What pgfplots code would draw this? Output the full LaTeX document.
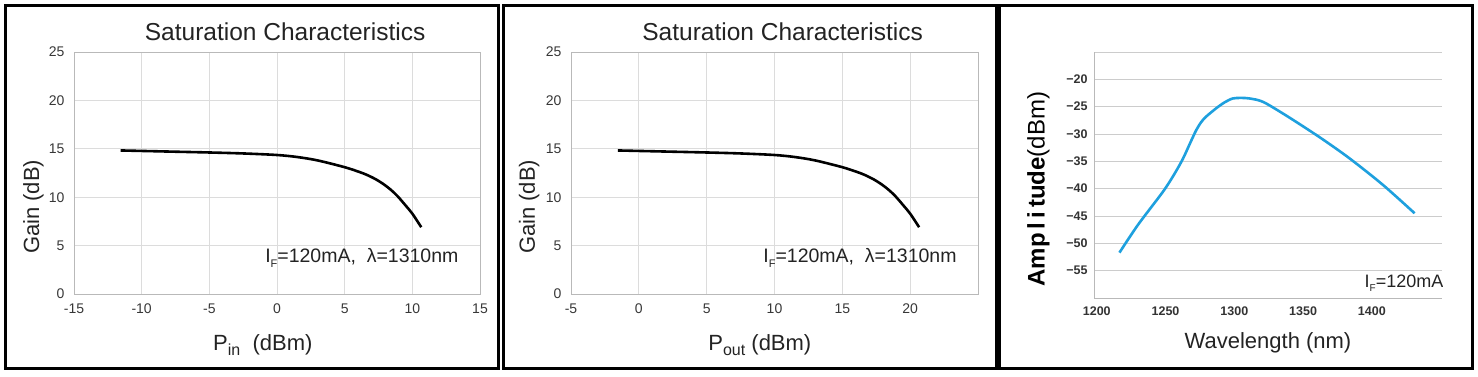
\documentclass[border=0pt]{standalone}
\usepackage{pgfplots}
\pgfplotsset{compat=1.18}
\usepackage{fontspec}
\setmainfont{Liberation Sans}
\definecolor{gridc}{RGB}{220,220,220}
\definecolor{boxc}{RGB}{185,185,185}
\definecolor{ampblue}{RGB}{30,160,222}
\definecolor{tickc}{RGB}{55,55,55}
\definecolor{txtc}{RGB}{35,35,35}
\newcommand{\fs}[1]{\fontsize{#1}{#1}\selectfont}

\pgfplotstableread{
x y
-11.55 14.83
-10 14.78
-7.5 14.70
-5 14.62
-2.5 14.52
0 14.36
1.5 14.15
3 13.8
5 13.1
6.1 12.6
6.65 12.3
7.3 11.85
7.9 11.32
8.4 10.78
8.9 10.12
9.5 9.15
10 8.3
10.66 6.9
}\pin

\pgfplotstableread{
x y
-1.55 14.83
0 14.78
2.5 14.70
5 14.62
7.5 14.52
10 14.36
11.5 14.15
13 13.8
15 13.1
16.1 12.6
16.65 12.3
17.3 11.85
17.9 11.32
18.4 10.78
18.9 10.12
19.5 9.15
20 8.3
20.66 6.9
}\pout

\pgfplotstableread{
x y
1216.5 -51.7
1230 -46.6
1248 -40.6
1256 -37.5
1262.5 -34.6
1268 -31.6
1272.3 -29.3
1276 -27.8
1279.6 -26.8
1286.8 -25.3
1293 -24.2
1298.9 -23.5
1305 -23.4
1311.1 -23.5
1320.7 -24.1
1335 -26.2
1350 -28.6
1365 -31.1
1384 -34.5
1408 -39.3
1431.1 -44.5
}\amp

\pgfplotsset{
  satstyle/.style={
    scale only axis, width=406pt, height=242pt,
    ymin=0, ymax=25, ytick={0,5,...,25},
    grid=major, grid style={gridc, line width=0.8pt},
    axis line style={boxc, line width=1pt},
    major tick length=0pt,
    tick label style={font=\fs{14}, text=tickc},
    xticklabel style={yshift=-6pt},
    yticklabel style={xshift=-6pt},
    /pgf/number format/assume math mode=true,
    title style={font=\fs{24.5}, text=txtc, anchor=center},
    ylabel style={font=\fs{22}, text=txtc, anchor=center},
    xlabel style={font=\fs{22}, text=txtc, anchor=center},
  }
}

\begin{document}
\begin{tikzpicture}[x=1pt,y=1pt]
\useasboundingbox (0,0) rectangle (1478,376);
\draw[line width=3pt] (5,8) rectangle (498,370);
\draw[line width=3pt] (503,8) rectangle (996,370);
\draw[line width=3pt] (999,8) rectangle (1472,370);

% Panel 1
\begin{axis}[satstyle, at={(74pt,82pt)}, anchor=south west,
  xmin=-15, xmax=15, xtick={-15,-10,...,15},
  title={Saturation Characteristics},
  title style={at={(axis description cs:0.52,1.058)}},
  ylabel={Gain (dB)},
  ylabel style={at={(axis description cs:-0.10,0.36)}},
  xlabel={P\raisebox{-0.45ex}{\fs{16}in}\ \ (dBm)},
  xlabel style={at={(axis description cs:0.465,-0.21)}},
]
\addplot[black, line width=2.6pt, smooth] table[x=x,y=y] {\pin};
\node[font=\fs{19.5}, text=txtc] at (axis description cs:0.709,0.149) {I\raisebox{-0.4ex}{\fs{11}F}=120mA,\ \ λ=1310nm};
\end{axis}

% Panel 2
\begin{axis}[satstyle, at={(571pt,82pt)}, anchor=south west, width=407pt,
  xmin=-5, xmax=25, xtick={-5,0,...,20},
  title={Saturation Characteristics},
  title style={at={(axis description cs:0.52,1.058)}},
  ylabel={Gain (dB)},
  ylabel style={at={(axis description cs:-0.103,0.36)}},
  xlabel={P\raisebox{-0.45ex}{\fs{16}out}\ (dBm)},
  xlabel style={at={(axis description cs:0.464,-0.21)}},
]
\addplot[black, line width=2.6pt, smooth] table[x=x,y=y] {\pout};
\node[font=\fs{19.5}, text=txtc] at (axis description cs:0.71,0.149) {I\raisebox{-0.4ex}{\fs{11}F}=120mA,\ \ λ=1310nm};
\end{axis}

% Panel 3
\begin{axis}[scale only axis, width=348pt, height=246pt,
  at={(1094pt,78pt)}, anchor=south west,
  xmin=1198, xmax=1451, ymin=-60, ymax=-15,
  axis x line=bottom, axis y line=left,
  axis line style={-, gray!55, line width=0.8pt},
  xtick={1200,1250,...,1400},
  ytick={-55,-50,...,-15},
  yticklabels={−55,−50,−45,−40,−35,−30,−25,−20,{}},
  ymajorgrids=true, grid style={gray!40, line width=0.8pt},
  major tick length=0pt,
  /pgf/number format/set thousands separator={},
  /pgf/number format/assume math mode=true,
  tick label style={font=\fs{12.5}\bfseries, text=black!80},
  xticklabel style={yshift=-5pt},
  yticklabel style={xshift=-3pt},
  xlabel={Wavelength (nm)},
  xlabel style={at={(axis description cs:0.5,-0.183)}, anchor=center, font=\fs{22}, text=txtc},
  ylabel={{\bfseries Amp\,l\,i\,tude}(dBm)},
  ylabel style={at={(axis description cs:-0.16,0.443)}, anchor=center, font=\fs{24}, text=black},
]
\addplot[ampblue, line width=2.6pt, smooth] table[x=x,y=y] {\amp};
\node[font=\fs{18}, text=txtc, anchor=east] at (axis description cs:1.014,0.061) {I\raisebox{-0.4ex}{\fs{10}F}=120mA};
\end{axis}
\end{tikzpicture}
\end{document}
